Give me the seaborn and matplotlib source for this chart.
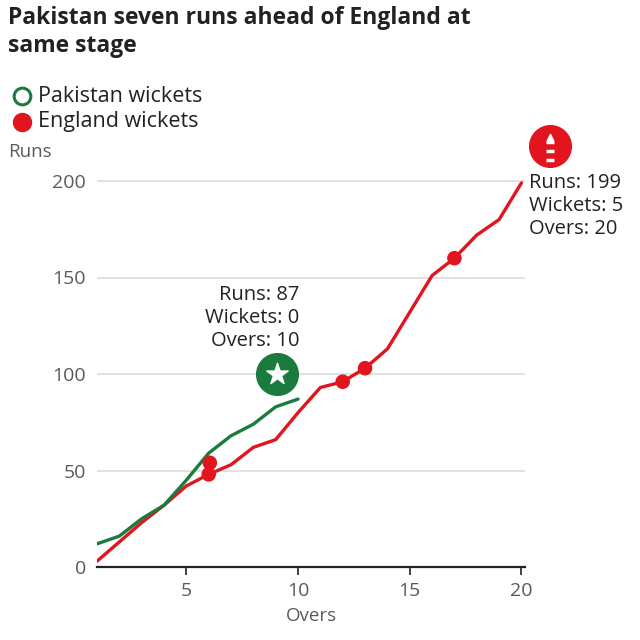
import matplotlib
matplotlib.use("Agg")
import matplotlib.pyplot as plt
from matplotlib.lines import Line2D
import seaborn as sns
import pandas as pd

# ---- data ----
pak_overs = [1, 2, 3, 4, 5, 6, 7, 8, 9, 10]
pak_runs = [12, 16, 25, 32, 45, 59, 68, 74, 83, 87]
eng_overs = [1, 2, 3, 4, 5, 6, 7, 8, 9, 10, 11, 12, 13, 14, 15, 16, 17, 18, 19, 20]
eng_runs = [3, 13, 23, 32, 42, 48, 53, 62, 66, 80, 93, 96, 103, 113, 132, 151, 160, 172, 180, 199]
eng_wkt_overs = [6, 6.05, 12, 13, 17]
eng_wkt_runs = [48, 54, 96, 103, 160]
x_ticks = [5, 10, 15, 20]
y_ticks = [0, 50, 100, 150, 200]
title = "Pakistan seven runs ahead of England at\nsame stage"
pak_label = "Runs: 87\nWickets: 0\nOvers: 10"
eng_label = "Runs: 199\nWickets: 5\nOvers: 20"

GREEN = "#1b7a3e"
RED = "#e2141d"
DARK = "#222222"
GREY = "#5a5a5a"

sns.set_theme(style="white")
plt.rcParams["font.family"] = ["Open Sans", "DejaVu Sans"]

fig = plt.figure(figsize=(6.4, 6.4), dpi=100)
ax = fig.add_axes([97 / 640, 1 - 567 / 640, (525 - 97) / 640, (567 - 161.7) / 640])

pak_df = pd.DataFrame({"over": pak_overs, "runs": pak_runs})
eng_df = pd.DataFrame({"over": eng_overs, "runs": eng_runs})
wk_df = pd.DataFrame({"over": eng_wkt_overs, "runs": eng_wkt_runs})

for y in y_ticks[1:]:
    ax.axhline(y, color="#dcdcdc", lw=1.2, zorder=0)

sns.lineplot(data=pak_df, x="over", y="runs", ax=ax, color=GREEN, lw=2.4, zorder=3)
sns.lineplot(data=eng_df, x="over", y="runs", ax=ax, color=RED, lw=2.4, zorder=2)
sns.scatterplot(data=wk_df, x="over", y="runs", ax=ax, color=RED, s=110,
                edgecolor="none", zorder=4)

ax.set_xlim(1, 20.16)
ax.set_ylim(0, 210)
ax.set_xticks(x_ticks)
ax.set_yticks(y_ticks)
ax.tick_params(axis="x", length=6, width=1.2, color=DARK, labelsize=14,
               labelcolor=GREY, pad=5, bottom=True)
ax.tick_params(axis="y", length=0, labelsize=14, labelcolor=GREY, pad=8)
for s in ["top", "right", "left"]:
    ax.spines[s].set_visible(False)
ax.spines["bottom"].set_color(DARK)
ax.spines["bottom"].set_linewidth(1.6)
ax.set_xlabel("Overs", fontsize=13.5, color=GREY, labelpad=5)
ax.set_ylabel("")

# Pakistan end annotation
ax.text(10.05, 146, pak_label, ha="right", va="top", fontsize=14.5, color=DARK,
        linespacing=1.2, zorder=6,
        bbox=dict(facecolor="white", edgecolor="none", pad=2))
ax.scatter([9.05], [100], s=900, color=GREEN, zorder=7, clip_on=False)
ax.scatter([9.05], [100], s=260, marker="*", color="white", zorder=8, clip_on=False)

# England end annotation
ax.text(20.35, 204, eng_label, ha="left", va="top", fontsize=14.5, color=DARK,
        linespacing=1.2, zorder=6, clip_on=False)
ax.scatter([21.3], [218], s=900, color=RED, zorder=7, clip_on=False)
for dy in [-4.5, 0, 4.5]:
    ax.scatter([21.3], [215.5 + dy], s=30, marker="_", color="white", lw=2.5,
               zorder=8, clip_on=False)
ax.scatter([21.3], [223], s=20, marker="^", color="white", zorder=8, clip_on=False)

# title, legend, axis label
fig.text(8 / 640, 1 - 6 / 640, title, ha="left", va="top", fontsize=16.5,
         fontweight="bold", color=DARK, linespacing=1.2)
fig.add_artist(Line2D([22 / 640], [1 - 96 / 640], marker="o", markersize=12,
                      markerfacecolor="white", markeredgecolor=GREEN,
                      markeredgewidth=2.2, transform=fig.transFigure))
fig.add_artist(Line2D([22 / 640], [1 - 122 / 640], marker="o", markersize=13,
                      markerfacecolor=RED, markeredgecolor=RED,
                      transform=fig.transFigure))
fig.text(38 / 640, 1 - 96 / 640, "Pakistan wickets", ha="left", va="center",
         fontsize=15.5, color=DARK)
fig.text(38 / 640, 1 - 122 / 640, "England wickets", ha="left", va="center",
         fontsize=15.5, color=DARK)
fig.text(8 / 640, 1 - 152 / 640, "Runs", ha="left", va="center",
         fontsize=13.5, color=GREY)

fig.savefig("out.png", dpi=100, facecolor="white")
